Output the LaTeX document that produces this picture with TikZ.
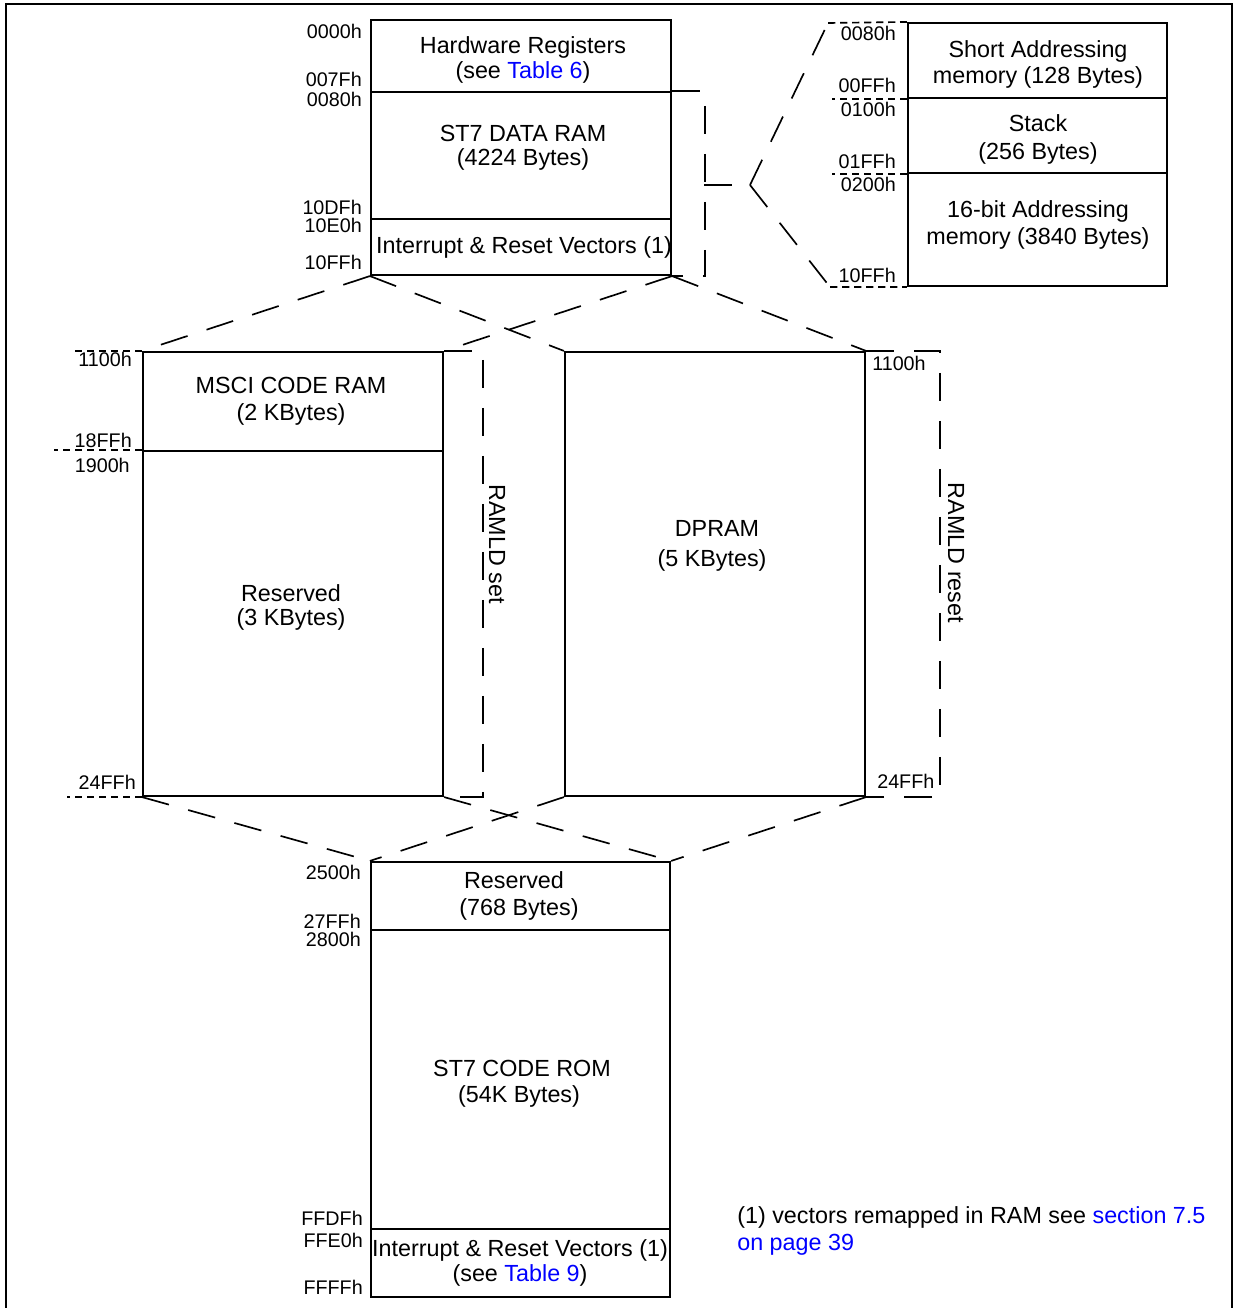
\documentclass[tikz,border=0pt]{standalone}
\usepackage{fontspec}
\setmainfont{Liberation Sans}
\usetikzlibrary{fit}
\definecolor{linkblue}{RGB}{0,0,255}
\newcommand\mainsz{\fontsize{17.5}{20}\selectfont}
\newcommand\labsz{\fontsize{14.8}{17}\selectfont}
\begin{document}
\begin{tikzpicture}[x=0.75pt,y=-0.75pt,
  mem/.style={draw,line width=1.6pt,inner sep=0pt,fit={#1}},
  txt/.style={font=\mainsz,anchor=base,inner sep=0pt},
  labr/.style={font=\labsz,anchor=base east,inner sep=0pt},
  labl/.style={font=\labsz,anchor=base west,inner sep=0pt},
  bigdash/.style={line width=1.25pt,dash pattern=on 21pt off 15pt},
  finedash/.style={line width=1.25pt,dash pattern=on 5.5pt off 3.5pt},
  frame/.style={line width=1.6pt}]
\useasboundingbox (0,0) rectangle (1237,1308);
\draw[frame] (6,1308) -- (6,4) -- (1232,4) -- (1232,1308);

% top block
\node[mem={(371,20)(671,92)}] (hw) {};
\node[mem={(371,92)(671,219)}] (dram) {};
\node[mem={(371,219)(671,275)}] (vect) {};
\node[txt] (hw1) at (523,54) {Hardware Registers};
\node[txt] (hw2) at (523,79) {(see \textcolor{linkblue}{Table 6})};
\node[txt] (dr1) at (523,142) {ST7 DATA RAM};
\node[txt] (dr2) at (523,166) {(4224 Bytes)};
\node[txt] (iv1) at (524,254) {Interrupt \& Reset Vectors (1)};
\node[labr] (a0000) at (362,39) {0000h};
\node[labr] (a007F) at (362,87) {007Fh};
\node[labr] (a0080) at (362,107) {0080h};
\node[labr] (a10DF) at (362,215) {10DFh};
\node[labr] (a10E0) at (362,233) {10E0h};
\node[labr] (a10FF) at (362,270) {10FFh};

% right block
\node[mem={(908,23)(1167,98)}] (short) {};
\node[mem={(908,98)(1167,173)}] (stack) {};
\node[mem={(908,173)(1167,286)}] (bit16) {};
\node[txt] (sa1) at (1038,58) {Short Addressing};
\node[txt] (sa2) at (1038,84) {memory (128 Bytes)};
\node[txt] (st1) at (1038,132) {Stack};
\node[txt] (st2) at (1038,160) {(256 Bytes)};
\node[txt] (b1) at (1038,218) {16-bit Addressing};
\node[txt] (b2) at (1038,245) {memory (3840 Bytes)};
\node[labr] (r0080) at (896,41) {0080h};
\node[labr] (r00FF) at (896,93) {00FFh};
\node[labr] (r0100) at (896,117) {0100h};
\node[labr] (r01FF) at (896,169) {01FFh};
\node[labr] (r0200) at (896,192) {0200h};
\node[labr] (r10FF) at (896,283) {10FFh};

% bracket and fork of the top block
\draw[bigdash] (dram.north east) -- ++(33,0) |- (vect.south east);
\coordinate (tick) at (704,185);
\coordinate (fork) at (750,185);
\coordinate (fktop) at (828,23);
\coordinate (fkbot) at (830,287);
\draw[bigdash] (tick) -- (fork);
\draw[bigdash] (fork) -- (fktop);
\draw[bigdash] (fork) -- (fkbot);
\draw[finedash] (fktop) -- (short.north west);
\draw[finedash] (fkbot) -- (bit16.south west);
\draw[finedash] (short.south west) -- ++(-75,0);
\draw[finedash] (stack.south west) -- ++(-75,0);

% middle left
\node[mem={(143,352)(443,451)}] (msci) {};
\node[mem={(143,451)(443,796)}] (resv) {};
\node[txt] (m1) at (291,393) {MSCI CODE RAM};
\node[txt] (m2) at (291,420) {(2 KBytes)};
\node[txt] (rs1) at (291,601) {Reserved};
\node[txt] (rs2) at (291,625) {(3 KBytes)};
\node[labr] (l1100) at (132,367) {1100h};
\node[labr] (l18FF) at (132,447) {18FFh};
\node[labr] (l1900) at (130,472) {1900h};
\node[labr] (l24FF) at (136,789) {24FFh};
\draw[finedash] (msci.north west) -- ++(-70,0);
\draw[finedash] (resv.north west) -- ++(-88,0);
\draw[finedash] (resv.south west) -- ++(-75,0);
\draw[bigdash] (msci.north east) -- ++(39,0) |- (resv.south east);
\node[font=\mainsz,rotate=-90,inner sep=0pt] (setl) at (497,544) {RAMLD set};

% middle right
\node[mem={(565,352)(865,796)}] (dpram) {};
\node[txt] (dp1) at (717,536) {DPRAM};
\node[txt] (dp2) at (712,566) {(5 KBytes)};
\node[labl] (m1100) at (872,371) {1100h};
\node[labl] (m24FF) at (877,788) {24FFh};
\draw[bigdash] (dpram.north east) -- ++(74,0) |- (dpram.south east);
\node[font=\mainsz,rotate=-90,inner sep=0pt] (resetl) at (956,553) {RAMLD reset};

% top to middle
\draw[bigdash] (vect.south west) -- (msci.north west);
\draw[bigdash] (vect.south west) -- (dpram.north west);
\draw[bigdash] (vect.south east) -- (msci.north east);
\draw[bigdash] (vect.south east) -- (dpram.north east);

% bottom block
\node[mem={(371,862)(670,930)}] (resv2) {};
\node[mem={(371,930)(670,1229)}] (rom) {};
\node[mem={(371,1229)(670,1297)}] (vect2) {};
\node[txt] (rr1) at (514,888) {Reserved};
\node[txt] (rr2) at (519,915) {(768 Bytes)};
\node[txt] (c1) at (522,1076) {ST7 CODE ROM};
\node[txt] (c2) at (519,1102) {(54K Bytes)};
\node[txt] (v1) at (520,1256) {Interrupt \& Reset Vectors (1)};
\node[txt] (v2) at (520,1281) {(see \textcolor{linkblue}{Table 9})};
\node[labr] (b2500) at (361,879) {2500h};
\node[labr] (b27FF) at (361,928) {27FFh};
\node[labr] (b2800) at (361,946) {2800h};
\node[labr] (bFFDF) at (363,1225) {FFDFh};
\node[labr] (bFFE0) at (363,1247) {FFE0h};
\node[labr] (bFFFF) at (363,1294) {FFFFh};

% middle to bottom
\draw[bigdash] (resv.south west) -- (resv2.north west);
\draw[bigdash] (resv.south east) -- (resv2.north east);
\draw[bigdash] (dpram.south west) -- (resv2.north west);
\draw[bigdash] (dpram.south east) -- (resv2.north east);

% footnote
\node[font=\mainsz,anchor=base west,inner sep=0pt] (fn1) at (737,1223) {(1) vectors remapped in RAM see \textcolor{linkblue}{section 7.5}};
\node[font=\mainsz,anchor=base west,inner sep=0pt] (fn2) at (737,1250) {\textcolor{linkblue}{on page 39}};
\end{tikzpicture}
\end{document}
